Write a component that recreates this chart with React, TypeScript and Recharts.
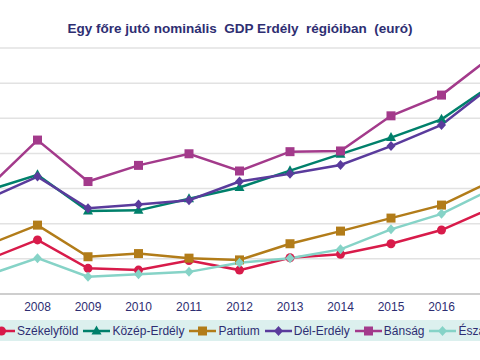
import { LineChart, Line, XAxis, YAxis, CartesianGrid } from 'recharts';

const years = [2007, 2008, 2009, 2010, 2011, 2012, 2013, 2014, 2015, 2016, 2017];
const yearTicks = [2008, 2009, 2010, 2011, 2012, 2013, 2014, 2015, 2016];
const valueTicks = [3000, 4000, 5000, 6000, 7000, 8000, 9000, 10000];

const szekelyfold = [3970, 4540, 3730, 3680, 3950, 3680, 4030, 4130, 4430, 4820, 5450];
const kozepErdely = [5940, 6390, 5360, 5380, 5710, 6030, 6510, 6980, 7450, 7970, 8950];
const partium = [4390, 4960, 4060, 4150, 4020, 3970, 4430, 4790, 5160, 5530, 6220];
const delErdely = [5700, 6340, 5440, 5550, 5670, 6200, 6420, 6670, 7210, 7810, 8930];
const bansag = [5990, 7380, 6200, 6660, 6990, 6500, 7050, 7070, 8070, 8660, 9770];
const eszakErdely = [3530, 4020, 3490, 3560, 3630, 3890, 4020, 4270, 4840, 5280, 5990];

type Shape = 'circle' | 'triangle' | 'square' | 'diamond';

const series: { key: string; name: string; color: string; shape: Shape; values: number[] }[] = [
  { key: 'szekelyfold', name: 'Székelyföld', color: '#d81b4a', shape: 'circle', values: szekelyfold },
  { key: 'kozep', name: 'Közép-Erdély', color: '#00806b', shape: 'triangle', values: kozepErdely },
  { key: 'partium', name: 'Partium', color: '#b27c19', shape: 'square', values: partium },
  { key: 'del', name: 'Dél-Erdély', color: '#5a3b9c', shape: 'diamond', values: delErdely },
  { key: 'bansag', name: 'Bánság', color: '#a33a8b', shape: 'square', values: bansag },
  { key: 'eszak', name: 'Észak-Erdély', color: '#86d3c7', shape: 'diamond', values: eszakErdely },
];

const data = years.map((year, i) => {
  const row: Record<string, number> = { year };
  series.forEach((s) => {
    row[s.key] = s.values[i];
  });
  return row;
});

const textColor = '#2e2e72';
const font = '"Liberation Sans", Arial, sans-serif';

function Marker({ cx, cy, color, shape }: { cx: number; cy: number; color: string; shape: Shape }) {
  if (cx == null || cy == null) return null;
  if (shape === 'circle') return <circle cx={cx} cy={cy} r={4.5} fill={color} />;
  if (shape === 'square') return <rect x={cx - 4.5} y={cy - 4.5} width={9} height={9} fill={color} />;
  if (shape === 'triangle')
    return <polygon points={`${cx},${cy - 5.5} ${cx + 5},${cy + 3.5} ${cx - 5},${cy + 3.5}`} fill={color} />;
  return <polygon points={`${cx},${cy - 5} ${cx + 4.5},${cy} ${cx},${cy + 5} ${cx - 4.5},${cy}`} fill={color} />;
}

export default function App() {
  return (
    <div
      style={{
        position: 'fixed',
        left: 0,
        top: 0,
        width: 480,
        height: 360,
        overflow: 'hidden',
        background: '#fff',
        fontFamily: font,
      }}
    >
      <div
        style={{
          position: 'absolute',
          top: 21,
          left: 0,
          width: 480,
          textAlign: 'center',
          fontSize: 13.5,
          fontWeight: 'bold',
          color: textColor,
          whiteSpace: 'pre',
        }}
      >
        {'Egy főre jutó nominális  GDP Erdély  régióiban  (euró)'}
      </div>
      <div style={{ position: 'absolute', left: -40, top: 0 }}>
        <LineChart width={560} height={360} data={data} margin={{ top: 48, right: 28, left: 27, bottom: 36 }}>
          <CartesianGrid vertical={false} stroke="#e2e2e2" strokeWidth={1.5} />
          <XAxis
            dataKey="year"
            type="number"
            domain={[2007, 2017]}
            ticks={yearTicks}
            tickLine={false}
            axisLine={{ stroke: '#c4c4c4', strokeWidth: 1.5 }}
            tick={{ fill: textColor, fontSize: 12, fontFamily: font }}
            height={30}
          />
          <YAxis hide domain={[3000, 10000]} ticks={valueTicks} />
          {series.map((s) => (
            <Line
              key={s.key}
              dataKey={s.key}
              name={s.name}
              stroke={s.color}
              strokeWidth={2.5}
              isAnimationActive={false}
              dot={(p: any) => <Marker key={p.index} cx={p.cx} cy={p.cy} color={s.color} shape={s.shape} />}
              activeDot={false}
            />
          ))}
        </LineChart>
      </div>
      <div
        style={{
          position: 'absolute',
          left: 0,
          top: 320,
          width: 480,
          height: 21,
          background: '#dcf0ee',
        }}
      />
      <div
        style={{
          position: 'absolute',
          left: -12,
          top: 320,
          height: 21,
          display: 'flex',
          alignItems: 'center',
          whiteSpace: 'nowrap',
          fontSize: 12,
          color: textColor,
        }}
      >
        {series.map((s) => (
          <div key={s.key} style={{ display: 'flex', alignItems: 'center', marginRight: 5 }}>
            <svg width={27} height={12} style={{ display: 'block' }}>
              <line x1={0} y1={6} x2={27} y2={6} stroke={s.color} strokeWidth={2.5} />
              <Marker cx={13.5} cy={6} color={s.color} shape={s.shape} />
            </svg>
            <span style={{ marginLeft: 2 }}>{s.name}</span>
          </div>
        ))}
      </div>
    </div>
  );
}
